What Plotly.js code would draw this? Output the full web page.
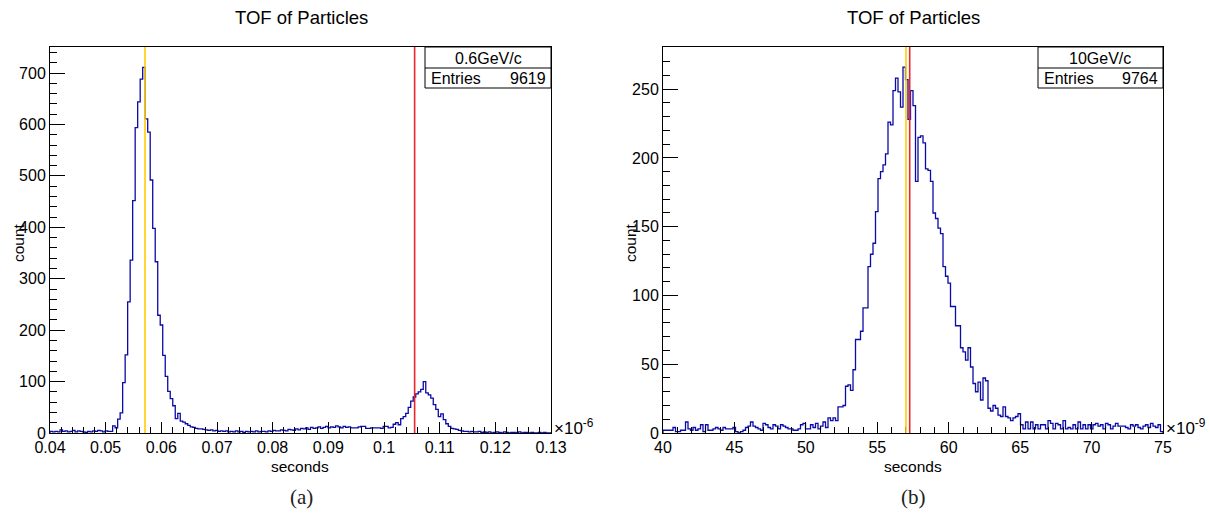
<!DOCTYPE html>
<html>
<head>
<meta charset="utf-8">
<script src="https://cdn.plot.ly/plotly-3.0.1.min.js"></script>
<style>html,body{margin:0;padding:0;background:#fff;}#chart{width:1210px;height:514px;}</style>
</head>
<body>
<div id="chart"></div>
<script>
// ---------- data ----------
const L_RANGE = [0.04, 0.13];          // x range, units of 1e-6 s
const L_COUNTS = [
  3, 2, 3, 2, 6, 3, 4, 2, 3, 5,
  2, 4, 3, 2, 1, 3, 2, 4, 3, 5,
  4, 2, 4, 3, 3, 14, 10, 27, 39, 98,
  152, 255, 336, 452, 594, 644, 688, 711, 611, 585,
  492, 398, 333, 229, 210, 151, 110, 81, 67, 53,
  28, 38, 23, 21, 18, 15, 12, 11, 9, 8,
  8, 7, 6, 5, 6, 4, 5, 3, 4, 3,
  4, 2, 3, 2, 4, 2, 3, 1, 3, 2,
  3, 2, 4, 2, 3, 3, 2, 4, 3, 5,
  4, 4, 6, 5, 4, 7, 6, 5, 8, 6,
  9, 8, 10, 7, 11, 9, 10, 12, 9, 11,
  13, 10, 12, 11, 14, 12, 10, 13, 11, 12,
  10, 10, 10, 12, 13, 13, 9, 9, 10, 10,
  10, 10, 9, 13, 13, 10, 11, 17, 20, 16,
  28, 32, 38, 50, 62, 70, 76, 80, 85, 100,
  78, 74, 68, 55, 46, 32, 37, 26, 18, 13,
  9, 8, 7, 5, 4, 3, 3, 2, 3, 2,
  2, 3, 1, 2, 1, 2, 0, 1, 2, 1,
  0, 2, 1, 0, 1, 1, 0, 2, 0, 1,
  1, 0, 1, 0, 0, 1, 0, 1, 0, 0
];
const L_MARKERS = [0.05707, 0.1055];   // yellow, red
const L_XTICKS = [0.04, 0.05, 0.06, 0.07, 0.08, 0.09, 0.10, 0.11, 0.12, 0.13];
const L_XTICKTEXT = ['0.04','0.05','0.06','0.07','0.08','0.09','0.1','0.11','0.12','0.13'];
const L_YTICKS = [0, 100, 200, 300, 400, 500, 600, 700];
const L_YMAX = 750.6;
const L_NAME = '0.6GeV/c';
const L_ENTRIES = 9619;

const R_RANGE = [40, 75];              // x range, units of 1e-9 s
const R_COUNTS = [
  2, 2, 2, 2, 4, 1, 1, 2, 2, 8,
  3, 2, 4, 2, 3, 6, 1, 6, 2, 2,
  3, 4, 3, 2, 4, 3, 3, 3, 4, 1,
  0, 1, 2, 4, 5, 8, 5, 4, 3, 2,
  7, 6, 4, 3, 6, 5, 3, 6, 5, 4,
  3, 3, 2, 2, 3, 6, 7, 3, 3, 6,
  4, 7, 3, 5, 8, 4, 11, 9, 11, 9,
  19, 19, 20, 34, 35, 31, 46, 68, 68, 74,
  91, 91, 121, 130, 138, 161, 185, 190, 195, 203,
  226, 224, 249, 258, 248, 237, 266, 257, 228, 249,
  238, 183, 215, 216, 211, 192, 191, 183, 160, 156,
  149, 145, 121, 114, 109, 92, 92, 78, 78, 62,
  59, 53, 62, 48, 36, 30, 37, 24, 40, 38,
  18, 16, 20, 18, 13, 12, 19, 12, 11, 9,
  11, 12, 14, 6, 3, 8, 3, 8, 3, 6,
  3, 6, 6, 3, 9, 7, 3, 7, 6, 3,
  9, 3, 4, 3, 6, 3, 8, 3, 6, 3,
  6, 3, 6, 7, 5, 6, 3, 7, 6, 3,
  5, 7, 5, 5, 5, 4, 3, 6, 5, 6,
  4, 3, 5, 6, 4, 7, 5, 4, 6, 1
];
const R_MARKERS = [57.01, 57.27];
const R_XTICKS = [40, 45, 50, 55, 60, 65, 70, 75];
const R_XTICKTEXT = ['40','45','50','55','60','65','70','75'];
const R_YTICKS = [0, 50, 100, 150, 200, 250];
const R_YMAX = 280.7;
const R_NAME = '10GeV/c';
const R_ENTRIES = 9764;

const TITLE = 'TOF of Particles';
const XTITLE = 'seconds';
const YTITLE = 'count';

// ---------- geometry / style ----------
const W = 1210, H = 514;
const FONT = 'Liberation Sans, Arial, Helvetica, sans-serif';
const SERIF = 'Liberation Serif, DejaVu Serif, serif';
const HIST_COLOR = '#0a0aa6';
const px = v => v / W, py = v => 1 - v / H;
const LDOM = [px(50), px(551)], RDOM = [px(663), px(1163)];
const YDOM = [py(433), py(47)];
const TICK_SIZE = 16;

function stepTrace(counts, range, xa, ya) {
  const w = (range[1] - range[0]) / counts.length;
  const xs = [range[0]], ys = [0];
  counts.forEach((c, i) => { xs.push(range[0] + i * w); ys.push(c); });
  xs.push(range[1]); ys.push(counts[counts.length - 1]);
  xs.push(range[1]); ys.push(0);
  return {x: xs, y: ys, xaxis: xa, yaxis: ya, type: 'scatter', mode: 'lines',
          line: {shape: 'hv', color: HIST_COLOR, width: 1.3}, hoverinfo: 'x+y'};
}

function xaxisDef(dom, range, vals, text, minorD, anchor) {
  return {domain: dom, range: range, anchor: anchor, showline: true, linecolor: '#000', linewidth: 1,
    mirror: true, ticks: 'inside', ticklen: 11, tickwidth: 1, tickcolor: '#000',
    tickmode: 'array', tickvals: vals, ticktext: text,
    minor: {tickmode: 'linear', tick0: range[0], dtick: minorD, ticks: 'inside', ticklen: 6, tickcolor: '#000', tickwidth: 1, showgrid: false},
    showgrid: false, zeroline: false, fixedrange: true,
    tickfont: {family: FONT, size: TICK_SIZE, color: '#000'}};
}
function yaxisDef(range, vals, minorD, anchor) {
  return {domain: YDOM, range: range, anchor: anchor, showline: true, linecolor: '#000', linewidth: 1,
    mirror: true, ticks: 'inside', ticklen: 15, tickwidth: 1, tickcolor: '#000',
    tickmode: 'array', tickvals: vals, ticktext: vals.map(String),
    minor: {tickmode: 'linear', tick0: 0, dtick: minorD, ticks: 'inside', ticklen: 7, tickcolor: '#000', tickwidth: 1, showgrid: false},
    showgrid: false, zeroline: false, fixedrange: true,
    tickfont: {family: FONT, size: TICK_SIZE, color: '#000'}};
}

const data = [
  stepTrace(L_COUNTS, L_RANGE, 'x', 'y'),
  stepTrace(R_COUNTS, R_RANGE, 'x2', 'y2')
];

function vline(x, xref, yref, color) {
  return {type: 'line', xref: xref, yref: yref, x0: x, x1: x, y0: 0, y1: 1,
          line: {color: color, width: 1.6}, layer: 'above'};
}
function statBox(x0, x1) {
  return [
    {type: 'rect', xref: 'paper', yref: 'paper', x0: px(x0), x1: px(x1), y0: py(88), y1: py(47),
     fillcolor: '#fff', line: {color: '#000', width: 1}, layer: 'above'},
    {type: 'line', xref: 'paper', yref: 'paper', x0: px(x0), x1: px(x1), y0: py(68), y1: py(68),
     line: {color: '#000', width: 1}, layer: 'above'}
  ];
}
const shapes = [
  vline(L_MARKERS[0], 'x', 'y domain', '#ffcc00'),
  vline(L_MARKERS[1], 'x', 'y domain', '#e8262b'),
  vline(R_MARKERS[0], 'x2', 'y2 domain', '#ffcc00'),
  vline(R_MARKERS[1], 'x2', 'y2 domain', '#e8262b'),
  ...statBox(425, 551),
  ...statBox(1038, 1163)
];

function ann(text, x, y, size, xanchor, extra) {
  return Object.assign({text: text, xref: 'paper', yref: 'paper', x: px(x), y: py(y),
    xanchor: xanchor || 'center', yanchor: 'middle', showarrow: false,
    font: {family: FONT, size: size, color: '#000'}}, extra || {});
}
const annotations = [
  ann(TITLE, 301, 18, 18.5),
  ann(TITLE, 914, 18, 18.5),
  ann(L_NAME, 488, 58, 16),
  ann('Entries', 429, 78, 16, 'left'),
  ann(String(L_ENTRIES), 548, 78, 16, 'right'),
  ann(R_NAME, 1100, 58, 16),
  ann('Entries', 1042, 78, 16, 'left'),
  ann(String(R_ENTRIES), 1160, 78, 16, 'right'),
  ann('\u00d710<sup>-6</sup>', 552, 427, 17, 'left'),
  ann('\u00d710<sup>-9</sup>', 1164, 427, 17, 'left'),
  ann(XTITLE, 300, 466, 15.5),
  ann(XTITLE, 913, 466, 15.5),
  ann(YTITLE, 18, 243, 15.5, 'center', {textangle: -90}),
  ann(YTITLE, 630, 243, 15.5, 'center', {textangle: -90}),
  ann('(a)', 301, 497, 21, 'center', {font: {family: SERIF, size: 21, color: '#222'}}),
  ann('(b)', 914, 497, 21, 'center', {font: {family: SERIF, size: 21, color: '#222'}})
];

const layout = {
  width: W, height: H, margin: {l: 0, r: 0, t: 0, b: 0, pad: 0},
  paper_bgcolor: '#fff', plot_bgcolor: '#fff', showlegend: false,
  xaxis: xaxisDef(LDOM, L_RANGE, L_XTICKS, L_XTICKTEXT, 0.002, 'y'),
  yaxis: yaxisDef([0, L_YMAX], L_YTICKS, 20, 'x'),
  xaxis2: xaxisDef(RDOM, R_RANGE, R_XTICKS, R_XTICKTEXT, 1, 'y2'),
  yaxis2: yaxisDef([0, R_YMAX], R_YTICKS, 10, 'x2'),
  shapes: shapes, annotations: annotations
};

Plotly.newPlot('chart', data, layout, {displayModeBar: false, staticPlot: true});
</script>
</body>
</html>
